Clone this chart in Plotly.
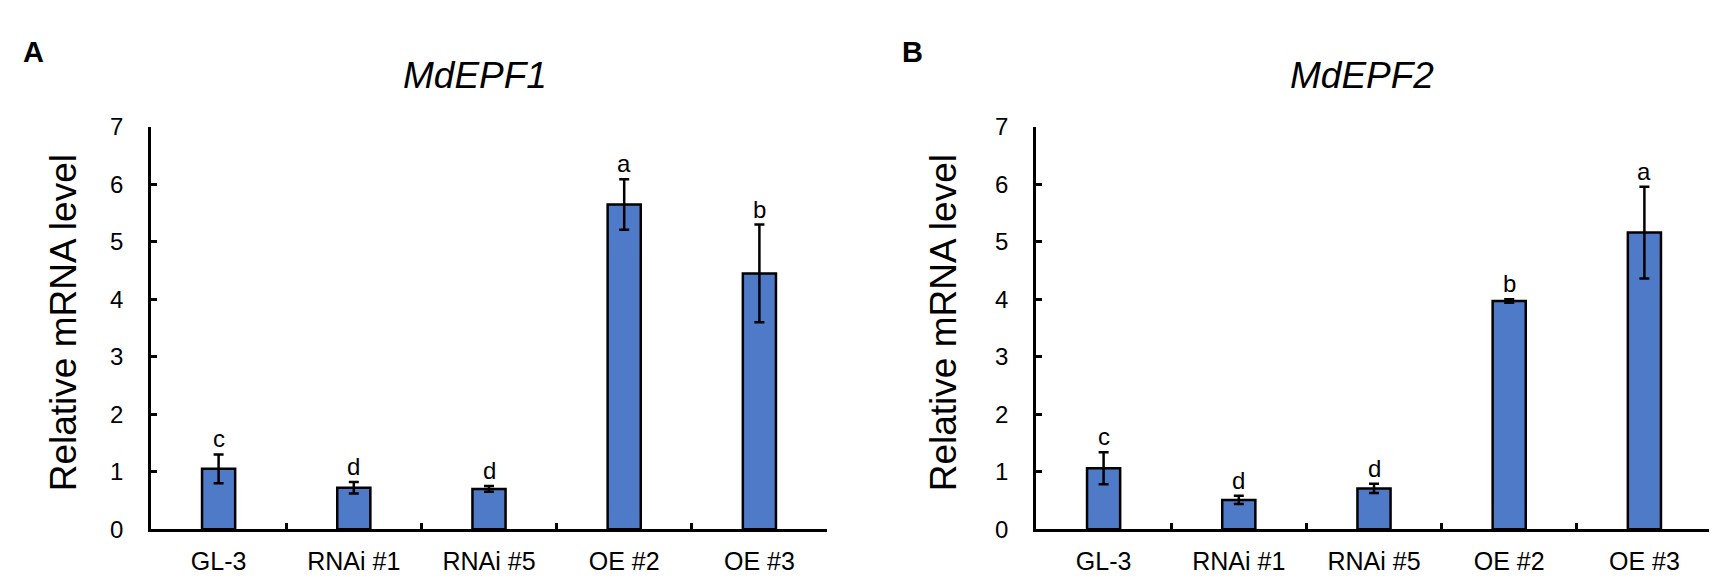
import plotly.graph_objects as go

# --- data ---
lines = ["GL-3", "RNAi #1", "RNAi #5", "OE #2", "OE #3"]

epf1_mean = [1.05, 0.72, 0.70, 5.65, 4.45]
epf1_err = [0.25, 0.10, 0.05, 0.44, 0.85]
epf1_letters = ["c", "d", "d", "a", "b"]

epf2_mean = [1.06, 0.51, 0.71, 3.97, 5.16]
epf2_err = [0.28, 0.07, 0.08, 0.03, 0.80]
epf2_letters = ["c", "d", "d", "b", "a"]

panel_titles = ["MdEPF1", "MdEPF2"]
panel_tags = ["A", "B"]
y_title = "Relative mRNA level"

W, H = 1717, 579
BAR_COLOR = "#4F7AC8"
FONT = "Liberation Sans, Arial, sans-serif"


def px_x(p):
    return p / W


def px_y(p):
    return 1 - p / H


fig = go.Figure()

panels = [
    dict(mean=epf1_mean, err=epf1_err, letters=epf1_letters, xa="x", ya="y"),
    dict(mean=epf2_mean, err=epf2_err, letters=epf2_letters, xa="x2", ya="y2"),
]

for p in panels:
    fig.add_trace(go.Bar(
        x=lines, y=p["mean"],
        xaxis=p["xa"], yaxis=p["ya"],
        width=0.245,
        marker=dict(color=BAR_COLOR, line=dict(color="black", width=2.5)),
        error_y=dict(type="data", array=p["err"], visible=True,
                     color="black", thickness=2.5, width=5),
        showlegend=False,
        hovertemplate="%{x}: %{y:.2f}<extra></extra>",
    ))
    for cat, m, e, lt in zip(lines, p["mean"], p["err"], p["letters"]):
        fig.add_annotation(
            x=cat, y=m + e, xref=p["xa"], yref=p["ya"],
            text=lt, showarrow=False, yanchor="bottom", yshift=0,
            font=dict(size=24, color="black", family=FONT),
        )

# plot areas in pixels: left axis 143..819, right 1028..1704, y 110..532
x_doms = [[px_x(143), px_x(819)], [px_x(1028), px_x(1704)]]
y_dom = [px_y(532), px_y(110)]

axis_common_x = dict(
    type="category", range=[-0.5, 4.5],
    showline=True, linecolor="black", linewidth=2.5,
    ticks="inside", tickson="boundaries", ticklen=6, tickwidth=2.5, tickcolor="black",
    tickfont=dict(size=25, color="black", family=FONT),
    ticklabelstandoff=8, showgrid=False, zeroline=False, fixedrange=True,
)
axis_common_y = dict(
    range=[0, 7], dtick=1,
    showline=True, linecolor="black", linewidth=2.5,
    ticks="inside", ticklen=6, tickwidth=2.5, tickcolor="black",
    tickfont=dict(size=24, color="black", family=FONT),
    ticklabelstandoff=20, showgrid=False, zeroline=False, fixedrange=True,
)

fig.update_layout(
    width=W, height=H,
    margin=dict(l=0, r=0, t=0, b=0),
    plot_bgcolor="white", paper_bgcolor="white",
    font=dict(family=FONT, color="black"),
    xaxis=dict(domain=x_doms[0], anchor="y", **axis_common_x),
    yaxis=dict(domain=y_dom, anchor="x", **axis_common_y),
    xaxis2=dict(domain=x_doms[1], anchor="y2", **axis_common_x),
    yaxis2=dict(domain=y_dom, anchor="x2", **axis_common_y),
)

# titles, y-axis titles and panel tags
title_x = [467, 1354]
ytitle_x = [55, 935]
tag_x = [13, 892]
for i in range(2):
    fig.add_annotation(
        x=px_x(title_x[i]), y=px_y(56), xref="paper", yref="paper",
        text=f"<i>{panel_titles[i]}</i>", showarrow=False,
        xanchor="center", yanchor="middle",
        font=dict(size=37, color="black", family=FONT),
    )
    fig.add_annotation(
        x=px_x(ytitle_x[i]), y=px_y(316), xref="paper", yref="paper",
        text=y_title, textangle=-90, showarrow=False,
        xanchor="center", yanchor="middle",
        font=dict(size=37, color="black", family=FONT),
    )
    fig.add_annotation(
        x=px_x(tag_x[i]), y=px_y(31), xref="paper", yref="paper",
        text=f"<b>{panel_tags[i]}</b>", showarrow=False,
        xanchor="left", yanchor="middle",
        font=dict(size=29, color="black", family=FONT),
    )

fig.write_html("out.html")
